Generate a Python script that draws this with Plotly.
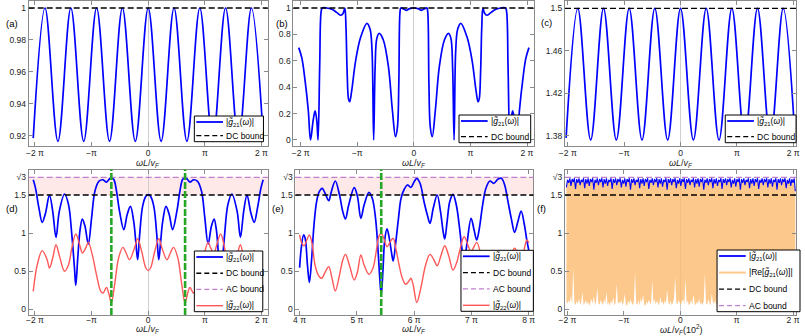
import plotly.graph_objects as go

# ---------------- data (x in units of pi) ----------------
SQRT3 = 3 ** 0.5

# (a) |g21| oscillating below the DC bound 1
a_x = [-2.03, -1.822, -1.594, -1.366, -1.139, -0.911, -0.683, -0.456, -0.228, 0.0,
       0.228, 0.456, 0.683, 0.911, 1.139, 1.366, 1.594, 1.822, 2.03]
a_y = [0.9185, 1.0, 0.9165, 1.0, 0.9165, 1.0, 0.9165, 1.0, 0.9165, 1.0,
       0.9165, 1.0, 0.9165, 1.0, 0.9165, 1.0, 0.9165, 1.0, 0.9185]

# (b)
b_x = [-2.035, -1.98, -1.925, -1.867, -1.827, -1.78, -1.746, -1.717, -1.694, -1.665,
       -1.64, -1.62, -1.54, -1.45, -1.36, -1.29, -1.25, -1.22, -1.2, -1.18,
       -1.155, -1.135, -1.1, -1.03, -0.94, -0.83, -0.775, -0.74, -0.711, -0.685,
       -0.655, -0.613, -0.54, -0.45, -0.38, -0.325, -0.29, -0.266, -0.245, -0.23,
       -0.19, -0.135, -0.075, 0.0,
       0.075, 0.135, 0.19, 0.23, 0.245, 0.266, 0.29, 0.325, 0.38, 0.45,
       0.54, 0.613, 0.655, 0.685, 0.711, 0.74, 0.775, 0.83, 0.94, 1.03,
       1.1, 1.135, 1.155, 1.18, 1.2, 1.22, 1.25, 1.29, 1.36, 1.45,
       1.54, 1.62, 1.64, 1.665, 1.694, 1.717, 1.746, 1.78, 1.827, 1.867,
       1.925, 1.98, 2.035]
b_y = [0.70, 0.62, 0.455, 0.227, 0.0, 0.15, 0.22, 0.15, 0.0, 0.555,
       0.97, 1.0, 1.0, 0.99, 0.965, 0.945, 0.96, 1.0, 0.85, 0.52,
       0.31, 0.29, 0.37, 0.60, 0.78, 0.884, 0.84, 0.68, 0.0, 0.55,
       0.77, 0.808, 0.758, 0.555, 0.227, 0.025, 0.10, 0.43, 0.97, 1.0,
       0.995, 0.982, 0.995, 1.0,
       0.995, 0.982, 0.995, 1.0, 0.97, 0.43, 0.10, 0.025, 0.227, 0.555,
       0.758, 0.808, 0.77, 0.55, 0.0, 0.68, 0.84, 0.884, 0.78, 0.60,
       0.37, 0.29, 0.31, 0.52, 0.85, 1.0, 0.96, 0.945, 0.965, 0.99,
       1.0, 1.0, 0.97, 0.555, 0.0, 0.15, 0.22, 0.15, 0.0, 0.227,
       0.455, 0.62, 0.70]

# (c) same positions as (a), DC bound 1.5
c_x = [-2.03, -1.822, -1.594, -1.366, -1.139, -0.911, -0.683, -0.456, -0.228, 0.0,
       0.228, 0.456, 0.683, 0.911, 1.139, 1.366, 1.594, 1.822, 2.03]
c_y = [1.378, 1.5, 1.376, 1.5, 1.376, 1.5, 1.376, 1.5, 1.376, 1.5,
       1.376, 1.5, 1.376, 1.5, 1.376, 1.5, 1.376, 1.5, 1.378]

# (d) |g21| (blue) and |g22| (red)
d_x = [-2.03, -1.99, -1.93, -1.872, -1.814, -1.744, -1.686, -1.628, -1.57, -1.477,
       -1.407, -1.349, -1.302, -1.279, -1.244, -1.203, -1.163, -1.116, -1.058, -1.0,
       -0.942, -0.872, -0.797, -0.738, -0.698, -0.651, -0.605, -0.564, -0.506, -0.43,
       -0.372, -0.314, -0.256, -0.215, -0.186, -0.151, -0.099, -0.041, 0.0,
       0.041, 0.099, 0.151, 0.186, 0.215, 0.256, 0.314, 0.372, 0.43, 0.506,
       0.564, 0.605, 0.651, 0.698, 0.738, 0.797, 0.872, 0.942, 1.0, 1.058,
       1.116, 1.163, 1.203, 1.244, 1.279, 1.302, 1.349, 1.407, 1.477, 1.57,
       1.628, 1.686, 1.744, 1.814, 1.872, 1.93, 1.99, 2.03]
d_g21 = [1.70, 1.59, 1.33, 1.14, 1.26, 1.50, 1.285, 0.943, 1.285, 1.513,
         1.373, 0.978, 0.539, 0.311, 0.671, 1.044, 1.184, 1.088, 0.855, 1.197,
         1.548, 1.68, 1.70, 1.67, 1.70, 1.732, 1.70, 1.57, 1.285, 1.044,
         1.24, 1.35, 1.153, 0.846, 0.649, 0.978, 1.35, 1.482, 1.504,
         1.482, 1.35, 0.978, 0.649, 0.846, 1.153, 1.35, 1.24, 1.044, 1.285,
         1.57, 1.70, 1.732, 1.70, 1.67, 1.70, 1.68, 1.548, 1.197, 0.855,
         1.088, 1.184, 1.044, 0.671, 0.311, 0.539, 0.978, 1.373, 1.513, 1.285,
         0.943, 1.285, 1.50, 1.26, 1.14, 1.33, 1.59, 1.70]
d_xr = [-2.03, -1.959, -1.872, -1.785, -1.744, -1.686, -1.628, -1.57, -1.477, -1.407,
        -1.349, -1.279, -1.203, -1.163, -1.105, -1.058, -0.988, -0.913, -0.837, -0.797,
        -0.738, -0.698, -0.651, -0.593, -0.523, -0.448, -0.39, -0.331, -0.244, -0.186,
        -0.116, -0.041, 0.0,
        0.041, 0.116, 0.186, 0.244, 0.331, 0.39, 0.448, 0.523, 0.593, 0.651,
        0.698, 0.738, 0.797, 0.837, 0.913, 0.988, 1.058, 1.105, 1.163, 1.203,
        1.279, 1.349, 1.407, 1.477, 1.57, 1.628, 1.686, 1.744, 1.785, 1.872,
        1.959, 2.03]
d_g22 = [0.232, 0.583, 0.768, 0.649, 0.539, 0.671, 0.846, 0.706, 0.496, 0.583,
         0.80, 0.987, 0.825, 0.737, 0.80, 0.88, 0.715, 0.45, 0.232, 0.21,
         0.285, 0.21, 0.08, 0.32, 0.671, 0.811, 0.737, 0.649, 0.80, 0.925,
         0.759, 0.539, 0.505,
         0.539, 0.759, 0.925, 0.80, 0.649, 0.737, 0.811, 0.671, 0.32, 0.08,
         0.21, 0.285, 0.21, 0.232, 0.45, 0.715, 0.88, 0.80, 0.737, 0.825,
         0.987, 0.80, 0.583, 0.496, 0.706, 0.846, 0.671, 0.539, 0.649, 0.768,
         0.583, 0.232]

# (e) window 4 pi .. 8 pi
e_x = [4.0, 4.029, 4.069, 4.097, 4.137, 4.171, 4.211, 4.251, 4.297, 4.343,
       4.394, 4.457, 4.509, 4.554, 4.623, 4.697, 4.754, 4.8, 4.857, 4.954,
       5.011, 5.069, 5.126, 5.211, 5.269, 5.326, 5.371, 5.4, 5.425, 5.457,
       5.486, 5.526, 5.566, 5.611, 5.634, 5.68, 5.726, 5.771, 5.829, 5.886,
       5.943, 6.0, 6.046, 6.103, 6.172, 6.23, 6.276, 6.333, 6.402, 6.46,
       6.506, 6.534, 6.575, 6.621, 6.678, 6.736, 6.793, 6.833, 6.874, 6.92,
       6.994, 7.046, 7.092, 7.138, 7.195, 7.253, 7.322, 7.391, 7.466, 7.523,
       7.58, 7.638, 7.695, 7.753, 7.81, 7.868, 7.925, 7.966, 8.0]
e_g21 = [0.544, 0.80, 0.974, 0.93, 0.579, 0.351, 0.667, 1.105, 1.412, 1.544,
         1.588, 1.50, 1.425, 1.544, 1.684, 1.50, 1.281, 1.184, 1.368, 1.596,
         1.478, 1.193, 1.368, 1.535, 1.456, 1.193, 0.754, 0.404, 0.184, 0.535,
         0.908, 1.053, 0.93, 0.711, 0.632, 0.886, 1.193, 1.456, 1.579, 1.632,
         1.60, 1.675, 1.72, 1.654, 1.412, 1.237, 1.127, 1.325, 1.50, 1.281,
         1.018, 0.921, 1.149, 1.412, 1.509, 1.368, 1.061, 0.798, 0.62, 0.85,
         1.193, 1.039, 0.908, 1.061, 1.368, 1.588, 1.684, 1.654, 1.71, 1.72,
         1.632, 1.412, 1.193, 1.009, 1.149, 1.289, 1.105, 0.908, 0.776]
e_xr = [4.0, 4.04, 4.08, 4.126, 4.171, 4.217, 4.269, 4.326, 4.383, 4.451,
        4.509, 4.566, 4.623, 4.697, 4.754, 4.8, 4.869, 4.954, 5.011, 5.069,
        5.126, 5.211, 5.28, 5.337, 5.383, 5.425, 5.469, 5.526, 5.583, 5.634,
        5.68, 5.737, 5.794, 5.851, 5.909, 5.943, 5.983, 6.046, 6.115, 6.2,
        6.276, 6.345, 6.402, 6.471, 6.534, 6.603, 6.678, 6.747, 6.805, 6.874,
        6.994, 7.092, 7.195, 7.322, 7.391, 7.523, 7.638, 7.753, 7.868, 7.966, 8.0]
e_g22 = [0.974, 0.864, 0.833, 0.908, 0.974, 0.864, 0.579, 0.447, 0.404, 0.491,
         0.557, 0.404, 0.237, 0.447, 0.645, 0.719, 0.579, 0.382, 0.491, 0.711,
         0.579, 0.456, 0.535, 0.754, 0.952, 0.996, 0.93, 0.82, 0.886, 0.93,
         0.798, 0.579, 0.404, 0.325, 0.368, 0.404, 0.316, 0.085, 0.272, 0.579,
         0.719, 0.645, 0.57, 0.711, 0.833, 0.70, 0.513, 0.623, 0.798, 0.95,
         0.76, 0.877, 0.6, 0.25, 0.3, 0.15, 0.5, 0.80, 0.66, 0.908, 0.87]

# (f) dense curves, sampled from x = -2.02 with a step of 0.0203 (units of pi x 10^2)
f_x0, f_dx = -2.02, 0.0203
f_abs = [1.60, 1.70, 1.66, 1.72, 1.62, 1.71, 1.67, 1.72, 1.58, 1.71,
         1.66, 1.72, 1.63, 1.70, 1.67, 1.72, 1.59, 1.71, 1.65, 1.72,
         1.62, 1.71, 1.67, 1.72, 1.57, 1.70, 1.66, 1.72, 1.63, 1.71,
         1.67, 1.72, 1.60, 1.71, 1.65, 1.72, 1.62, 1.70, 1.67, 1.72,
         1.58, 1.71, 1.66, 1.72, 1.63, 1.71, 1.67, 1.72, 1.60, 1.70,
         1.65, 1.72, 1.61, 1.71, 1.67, 1.72, 1.57, 1.71, 1.66, 1.72,
         1.63, 1.70, 1.67, 1.72, 1.59, 1.71, 1.65, 1.72, 1.62, 1.71,
         1.67, 1.72, 1.58, 1.70, 1.66, 1.72, 1.63, 1.71, 1.67, 1.72,
         1.60, 1.71, 1.65, 1.72, 1.61, 1.70, 1.67, 1.72, 1.57, 1.71,
         1.66, 1.72, 1.63, 1.71, 1.67, 1.72, 1.59, 1.70, 1.65, 1.72,
         1.62, 1.71, 1.67, 1.72, 1.58, 1.71, 1.66, 1.72, 1.63, 1.70,
         1.67, 1.72, 1.60, 1.71, 1.65, 1.72, 1.61, 1.71, 1.67, 1.72,
         1.57, 1.70, 1.66, 1.72, 1.63, 1.71, 1.67, 1.72, 1.59, 1.71,
         1.65, 1.72, 1.62, 1.70, 1.67, 1.72, 1.58, 1.71, 1.66, 1.72,
         1.63, 1.71, 1.67, 1.72, 1.60, 1.70, 1.65, 1.72, 1.61, 1.71,
         1.67, 1.72, 1.57, 1.71, 1.66, 1.72, 1.63, 1.70, 1.67, 1.72,
         1.59, 1.71, 1.65, 1.72, 1.62, 1.71, 1.67, 1.72, 1.58, 1.70,
         1.66, 1.72, 1.63, 1.71, 1.67, 1.72, 1.60, 1.71, 1.65, 1.72,
         1.61, 1.70, 1.67, 1.72, 1.57, 1.71, 1.66, 1.72, 1.63, 1.71,
         1.67, 1.72, 1.59, 1.70, 1.65, 1.72, 1.62, 1.71, 1.66, 1.72,
         1.55]
f_re_low = [0.10, 0.07, 0.12, 0.08, 0.18, 0.06, 0.55, 0.09, 0.05, 0.11,
            0.07, 0.14, 0.06, 0.09, 0.22, 0.05, 0.08, 0.12, 0.06, 0.10,
            0.04, 0.09, 0.13, 0.07, 0.17, 0.05, 0.10, 0.28, 0.07, 0.06,
            0.12, 0.08, 0.05, 0.13, 0.07, 0.23, 0.06, 0.09, 0.04, 0.11,
            0.07, 0.15, 0.05, 0.08, 0.33, 0.06, 0.10, 0.07, 0.12, 0.05,
            0.09, 0.20, 0.06, 0.04, 0.11, 0.07, 0.13, 0.08, 0.05, 0.10,
            0.48, 0.07, 0.06, 0.12, 0.05, 0.14, 0.08, 0.19, 0.06, 0.04,
            0.10, 0.07, 0.12, 0.09, 0.05, 0.38, 0.08, 0.13, 0.06, 0.11,
            0.07, 0.05, 0.16, 0.08, 0.10, 0.05, 0.12, 0.07, 0.25, 0.09,
            0.06, 0.11, 0.05, 0.08, 0.14, 0.42, 0.09, 0.06, 0.12, 0.07,
            0.05, 0.10, 0.13, 0.06, 0.40, 0.08, 0.11, 0.05, 0.07, 0.12,
            0.06, 0.19, 0.08, 0.05, 0.10, 0.07, 0.14, 0.06, 0.09, 0.05,
            0.11, 0.47, 0.07, 0.06, 0.13, 0.08, 0.05, 0.20, 0.09, 0.07,
            0.12, 0.05, 0.08, 0.11, 0.06, 0.32, 0.07, 0.10, 0.15, 0.05,
            0.08, 0.12, 0.04, 0.06, 0.23, 0.09, 0.07, 0.13, 0.05, 0.10,
            0.06, 0.28, 0.08, 0.05, 0.11, 0.17, 0.07, 0.12, 0.04, 0.09,
            0.06, 0.22, 0.08, 0.13, 0.05, 0.10, 0.07, 0.14, 0.06, 0.09,
            0.05, 0.11, 0.07, 0.55, 0.08, 0.18, 0.06, 0.12, 0.07, 0.10,
            0.05, 0.09, 0.13, 0.06, 0.21, 0.08, 0.05, 0.11, 0.07, 0.14,
            0.06, 0.10, 0.08, 0.12, 0.05, 0.09, 0.16, 0.07, 0.11, 0.08,
            0.12]

dc_bound = {"a": 1.0, "b": 1.0, "c": 1.5, "d": 1.5, "e": 1.5, "f": 1.5}
ac_bound = SQRT3
green_d = [-0.651, 0.651]
green_e = [5.425]

pi_ticks = [-2, -1, 0, 1, 2]
pi_text = ["\u22122 \u03c0", "\u2212\u03c0", "0", "\u03c0", "2 \u03c0"]
e_ticks = [4, 5, 6, 7, 8]
e_text = ["4 \u03c0", "5 \u03c0", "6 \u03c0", "7 \u03c0", "8 \u03c0"]
low_ticks = [0, 0.5, 1, 1.5, SQRT3]
low_text = ["0", "0.5", "1", "1.5", "\u221a3"]

# ---------------- styling ----------------
W, H = 805, 336
FONT = "Liberation Sans, Arial, sans-serif"
BLUE = "#0000ff"
RED = "rgb(255,88,88)"
PURPLE = "rgb(192,128,206)"
GREEN = "rgb(38,168,38)"
ORANGE = "rgb(253,200,140)"
FRAME = "#8a8a8a"


def px(x):
    return x / W


def py(y):
    return 1 - y / H


# pixel boxes of the six frames: x0, x1, y0(top), y1(bottom)
frames = {
    "a": (23, 265, 1, 146), "b": (291, 535, 1, 146), "c": (566, 800, 1, 146),
    "d": (23, 265, 169.5, 315), "e": (293, 534, 169.5, 315), "f": (566, 800, 169.5, 315),
}
xr = {"a": [-2.11, 2.11], "b": [-2.13, 2.13], "c": [-2.05, 2.05],
      "d": [-2.11, 2.11], "e": [3.926, 8.081], "f": [-2.045, 2.053]}
yr = {"a": [0.91355, 1.00439], "b": [-0.0455, 1.053], "c": [1.3703, 1.50688],
      "d": [-0.079, 1.8355], "e": [-0.079, 1.8355], "f": [-0.079, 1.8355]}
yt = {"a": ([0.92, 0.94, 0.96, 0.98, 1.0], ["0.92", "0.94", "0.96", "0.98", "1"]),
      "b": ([0, 0.2, 0.4, 0.6, 0.8, 1.0], ["0", "0.2", "0.4", "0.6", "0.8", "1"]),
      "c": ([1.38, 1.42, 1.46, 1.5], ["1.38", "1.42", "1.46", "1.5"]),
      "d": (low_ticks, low_text), "e": (low_ticks, low_text), "f": (low_ticks, low_text)}

fig = go.Figure()
axn = {}
for i, k in enumerate("abcdef"):
    n = "" if i == 0 else str(i + 1)
    axn[k] = n
    x0, x1, y0, y1 = frames[k]
    common = dict(showline=True, linecolor=FRAME, linewidth=1, mirror="ticks",
                  ticks="inside", ticklen=4, tickcolor=FRAME, showgrid=False,
                  tickfont=dict(family=FONT, size=8.5, color="#222"), fixedrange=True)
    xt = (e_ticks, e_text) if k == "e" else (pi_ticks, pi_text)
    fig.update_layout(**{
        "xaxis" + n: dict(domain=[px(x0), px(x1)], range=xr[k], anchor="y" + n,
                          tickvals=xt[0], ticktext=xt[1], zeroline=(k != "e"),
                          zerolinecolor="#cfcfcf", zerolinewidth=1,
                          ticklabelstandoff=(-3 if k in "def" else -1), **common),
        "yaxis" + n: dict(domain=[py(y1), py(y0)], range=yr[k], anchor="x" + n,
                          tickvals=yt[k][0], ticktext=yt[k][1], zeroline=False, **common),
    })


def curve(k, x, y, color, width, shape="spline"):
    fig.add_trace(go.Scatter(x=x, y=y, mode="lines", xaxis="x" + axn[k], yaxis="y" + axn[k],
                             line=dict(color=color, width=width, shape=shape, smoothing=1.0),
                             hoverinfo="skip", showlegend=False))


curve("a", a_x, a_y, BLUE, 1.7)
curve("b", b_x, b_y, BLUE, 1.7)
curve("c", c_x, c_y, BLUE, 1.7)
curve("d", d_x, d_g21, BLUE, 1.7)
curve("d", d_xr, d_g22, RED, 1.4)
curve("e", e_x, e_g21, BLUE, 1.7)
curve("e", e_xr, e_g22, RED, 1.4)

# (f): orange band between the lower envelope of |Re g21| and |g21|, blue on top
fig.add_trace(go.Scatter(y=f_re_low, x0=f_x0, dx=f_dx, mode="lines", xaxis="x6", yaxis="y6",
                         line=dict(width=0, color=ORANGE), hoverinfo="skip", showlegend=False))
fig.add_trace(go.Scatter(y=f_abs, x0=f_x0, dx=f_dx, mode="lines", xaxis="x6", yaxis="y6",
                         line=dict(width=0, color=ORANGE), fill="tonexty",
                         fillcolor="rgba(252,186,111,0.8)", hoverinfo="skip", showlegend=False))
fig.add_trace(go.Scatter(y=f_abs, x0=f_x0, dx=f_dx, mode="lines", xaxis="x6", yaxis="y6",
                         line=dict(width=1.1, color=BLUE), hoverinfo="skip", showlegend=False))

# shaded band between DC and AC bound in (d), (e)
for k in "de":
    fig.add_shape(type="rect", xref="x%s domain" % axn[k], yref="y" + axn[k], x0=0, x1=1,
                  y0=dc_bound[k], y1=ac_bound, fillcolor="rgba(255,190,190,0.35)",
                  line=dict(width=0), layer="below")

# bound lines
for k in "abcdef":
    fig.add_shape(type="line", xref="x%s domain" % axn[k], yref="y" + axn[k], x0=0, x1=1,
                  y0=dc_bound[k], y1=dc_bound[k], line=dict(color="black", width=1.3, dash="6px,3px"),
                  layer="above")
    if k in "def":
        fig.add_shape(type="line", xref="x%s domain" % axn[k], yref="y" + axn[k], x0=0, x1=1,
                      y0=ac_bound, y1=ac_bound, line=dict(color=PURPLE, width=1.3, dash="6px,3px"),
                      layer="above")

for k, xs in (("d", green_d), ("e", green_e)):
    for xv in xs:
        fig.add_shape(type="line", xref="x" + axn[k], yref="y%s domain" % axn[k], x0=xv, x1=xv,
                      y0=0, y1=1, line=dict(color=GREEN, width=2.6, dash="7px,2px"), layer="above")

# ---------------- legends ----------------
G21 = "|<i>g\u0303</i><sub>21</sub>(<i>\u03c9</i>)|"
G22 = "|<i>g\u0303</i><sub>22</sub>(<i>\u03c9</i>)|"
REG = "|Re[<i>g\u0303</i><sub>21</sub>(<i>\u03c9</i>)]|"
e_blue = (G21, BLUE, "solid", 1.8)
e_dc = ("DC bound", "black", "5px,3px", 1.3)
e_ac = ("AC bound", PURPLE, "5px,3px", 1.3)
e_red = (G22, RED, "solid", 1.4)
e_or = (REG, ORANGE, "solid", 2.0)


def add_legend(box, entries):
    x0, x1, y0, y1 = box
    fig.add_shape(type="rect", xref="paper", yref="paper", x0=px(x0), x1=px(x1),
                  y0=py(y1), y1=py(y0), fillcolor="white", line=dict(color="black", width=1),
                  layer="above")
    pad = 6
    step = (y1 - y0 - 2 * pad) / (len(entries) - 1)
    for i, (text, color, dash, width) in enumerate(entries):
        yc = y0 + pad + i * step
        fig.add_shape(type="line", xref="paper", yref="paper", x0=px(x0 + 2), x1=px(x0 + 29),
                      y0=py(yc), y1=py(yc), line=dict(color=color, width=width, dash=dash),
                      layer="above")
        fig.add_annotation(xref="paper", yref="paper", x=px(x0 + 30), y=py(yc), text=text,
                           showarrow=False, xanchor="left", yanchor="middle",
                           font=dict(family=FONT, size=8.5, color="black"))


add_legend((190.7, 260.7, 116, 141.7), [e_blue, e_dc])
add_legend((458.7, 531.3, 115, 142.7), [e_blue, e_dc])
add_legend((728.3, 800, 115, 142.7), [e_blue, e_dc])
add_legend((190.7, 260, 251, 311.7), [e_blue, e_dc, e_ac, e_red])
add_legend((460.7, 534, 250.3, 311.3), [e_blue, e_dc, e_ac, e_red])
add_legend((720, 804, 250, 311.7), [e_blue, e_or, e_dc, e_ac])

# ---------------- panel labels and axis titles ----------------
for lab, (x, y) in {"(a)": (6, 24), "(b)": (279, 24), "(c)": (547.5, 23),
                    "(d)": (6, 208), "(e)": (275.5, 208), "(f)": (542, 208)}.items():
    fig.add_annotation(xref="paper", yref="paper", x=px(x), y=py(y), text=lab, showarrow=False,
                       xanchor="center", yanchor="middle", font=dict(family=FONT, size=9.5, color="black"))

XT = "<i>\u03c9L</i>/<i>v</i><sub><i>F</i></sub>"
for k, (x, y) in {"a": (144, 163), "b": (413, 163), "c": (683, 163),
                  "d": (144, 329.5), "e": (413.5, 329.5), "f": (683, 329.5)}.items():
    t = XT + "(10<sup>2</sup>)" if k == "f" else XT
    fig.add_annotation(xref="paper", yref="paper", x=px(x), y=py(y), text=t, showarrow=False,
                       xanchor="center", yanchor="middle", font=dict(family=FONT, size=9, color="#222"))

fig.update_layout(width=W, height=H, margin=dict(l=0, r=0, t=0, b=0),
                  paper_bgcolor="white", plot_bgcolor="white", showlegend=False)

# the page body has a default 8px margin; remove it so the figure fills the window
fig.write_html("out.html", config={"displayModeBar": False},
               post_script="document.body.style.margin='0px';document.body.style.overflow='hidden';")
